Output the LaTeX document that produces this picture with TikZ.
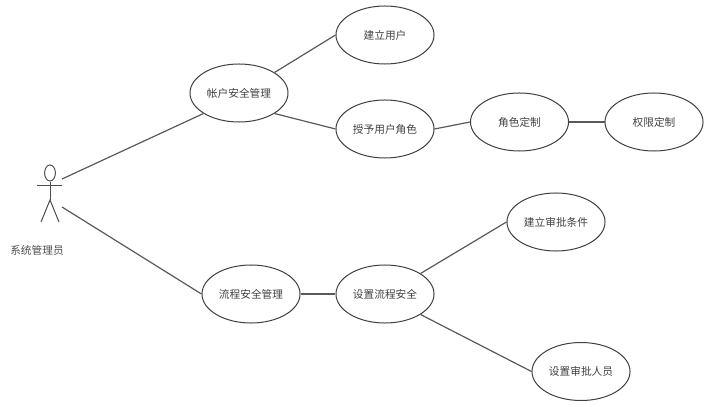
\documentclass[tikz,border=0pt]{standalone}
\usepackage{fontspec}
\setmainfont{Noto Sans CJK SC}
\usetikzlibrary{shapes.geometric}
\tikzset{
  usecase/.style={draw=black!75,ellipse,line width=0.025cm,minimum width=2.45cm,minimum height=1.45cm,inner sep=0pt,text=black!75},
  assoc/.style={draw=black!65,line width=0.03cm},
  stick/.style={draw=black!70,line width=0.025cm},
}
\begin{document}
\begin{tikzpicture}[x=0.025cm,y=-0.025cm]
  \useasboundingbox (0,0) rectangle (707,406);
  {\fontsize{7.6}{9}\selectfont

  % Marking the use cases by ellipses
  \node [usecase] (build) at (385,35) {建立用户};
  \node [usecase] (account) at (239,93) {帐户安全管理};
  \node [usecase] (grant) at (385,129) {授予用户角色};
  \node [usecase] (role) at (519.5,122) {角色定制};
  \node [usecase] (right) at (654,122) {权限定制};
  \node [usecase] (condition) at (556,222) {建立审批条件};
  \node [usecase] (flow) at (251,294) {流程安全管理};
  \node [usecase] (setup) at (385,294) {设置流程安全};
  \node [usecase] (approver) at (581,371.5) {设置审批人员};

  % Drawing the actor
  \coordinate (hip) at (50,200);
  \coordinate (upperend) at (62,179);
  \coordinate (lowerend) at (62,207);
  \node [stick,ellipse,minimum width=0.27cm,minimum height=0.4cm,inner sep=0pt] (head) at (50,173) {};
  \coordinate (armleft) at (37,186);
  \coordinate (armright) at (62,186);
  \coordinate (footleft) at (41,222);
  \coordinate (footright) at (59,222);
  \draw [stick] (head) -- (hip);
  \draw [stick] (armleft) -- (armright);
  \draw [stick] (footleft) -- (hip) -- (footright);
  \node [text=black!70] (admin) at (37,250) {系统管理员};

  % Drawing the associations
  \draw [assoc] (upperend) -- (account.210);
  \draw [assoc] (lowerend) -- (flow.west);
  \draw [assoc] (account.30) -- (build.west);
  \draw [assoc] (account.-30) -- (grant.west);
  \draw [assoc] (grant.east) -- (role.west);
  \draw [assoc] (role.east) -- (right.west);
  \draw [assoc] (flow.east) -- (setup.west);
  \draw [assoc] (setup.30) -- (condition.west);
  \draw [assoc] (setup.-30) -- (approver.west);
  }
\end{tikzpicture}
\end{document}
